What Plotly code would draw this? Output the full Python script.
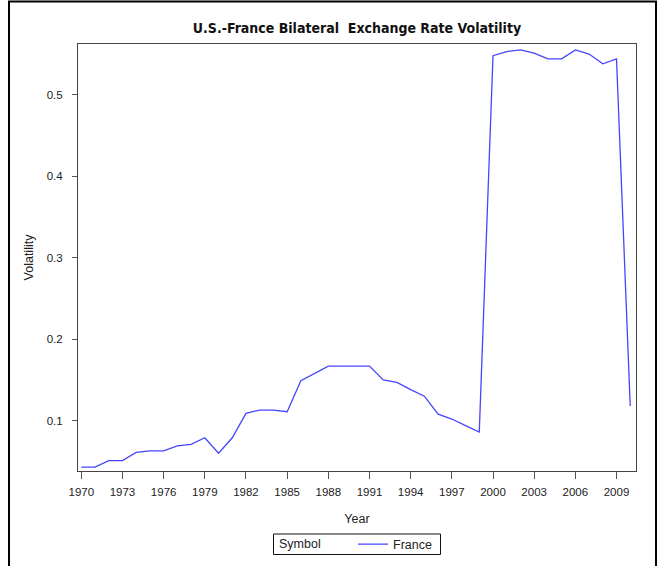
import plotly.graph_objects as go

years = list(range(1970, 2011))
volatility = [
    0.043, 0.043, 0.051, 0.051, 0.061, 0.063, 0.063, 0.069, 0.071, 0.079,
    0.060, 0.079, 0.109, 0.113, 0.113, 0.111, 0.149, 0.158, 0.167, 0.167,
    0.167, 0.167, 0.150, 0.147, 0.138, 0.130, 0.108, 0.102, 0.094, 0.086,
    0.548, 0.553, 0.555, 0.551, 0.544, 0.544, 0.555, 0.550, 0.538, 0.544,
    0.118,
]
x_ticks = list(range(1970, 2010, 3))
y_ticks = [0.1, 0.2, 0.3, 0.4, 0.5]
legend_title = "Symbol"

FONT = "Liberation Sans, Arial, sans-serif"
TITLE_FONT = "DejaVu Sans Condensed, Liberation Sans, sans-serif"

W, H = 666, 566
L, R, T, B = 78, 636, 44, 471


def px_x(px):
    return (px - L) / (R - L)


def px_y(py):
    return (B - py) / (B - T)


fig = go.Figure()
fig.add_trace(go.Scatter(
    x=years, y=volatility, mode="lines", name="France",
    line=dict(color="#4545ff", width=1.3),
))

fig.update_layout(
    width=W, height=H,
    margin=dict(l=L, r=W - R, t=T, b=H - B, autoexpand=False),
    paper_bgcolor="white", plot_bgcolor="white",
    font=dict(family=FONT, size=12, color="#222"),
    title=dict(
        text="<b>U.S.-France Bilateral  Exchange Rate Volatility</b>",
        x=0.5, xref="paper", xanchor="center",
        y=1 - 28 / H, yref="container", yanchor="middle",
        font=dict(family=TITLE_FONT, size=14, color="#111"),
    ),
    showlegend=True,
    legend=dict(
        orientation="h", x=px_x(353), xanchor="left",
        y=px_y(529.5), yanchor="top",
        borderwidth=0, bgcolor="rgba(0,0,0,0)",
        font=dict(size=12.5),
        itemwidth=30,
    ),
    xaxis=dict(
        range=[1969.76, 2010.42],
        tickmode="array", tickvals=x_ticks, ticktext=[str(v) for v in x_ticks],
        ticks="outside", ticklen=7, tickcolor="#555",
        ticklabelstandoff=3,
        showline=True, linecolor="#444", linewidth=1, mirror=True,
        showgrid=False, zeroline=False,
        title=dict(text="Year", standoff=17, font=dict(size=12.5)),
        tickfont=dict(size=11.5),
    ),
    yaxis=dict(
        range=[0.0382, 0.5623],
        tickmode="array", tickvals=y_ticks, ticktext=[f"{v:.1f}" for v in y_ticks],
        ticks="outside", ticklen=5, tickcolor="#555",
        ticklabelstandoff=7,
        showline=True, linecolor="#444", linewidth=1, mirror=True,
        showgrid=False, zeroline=False,
        title=dict(text="Volatility", standoff=10, font=dict(size=12.5)),
        tickfont=dict(size=11.5),
    ),
)

# legend caption and frame (SAS-style "Symbol" legend box)
fig.add_annotation(
    text=legend_title, xref="paper", yref="paper",
    x=px_x(277), y=px_y(544), xanchor="left", yanchor="middle",
    showarrow=False, font=dict(size=12.5, color="#222"),
)
fig.add_shape(
    type="rect", xref="paper", yref="paper",
    x0=px_x(273.5), x1=px_x(440.5), y0=px_y(554.5), y1=px_y(534),
    line=dict(color="#111", width=1),
)

# outer frame around the whole graphic
fig.add_shape(
    type="rect", xref="paper", yref="paper",
    x0=px_x(9), x1=px_x(656),
    y0=px_y(600), y1=px_y(1.5),
    line=dict(color="black", width=2), layer="below",
)

fig.write_html(
    "out.html",
    config={"displayModeBar": False},
    post_script="document.body.style.margin='0px';document.body.style.overflow='hidden';",
)
